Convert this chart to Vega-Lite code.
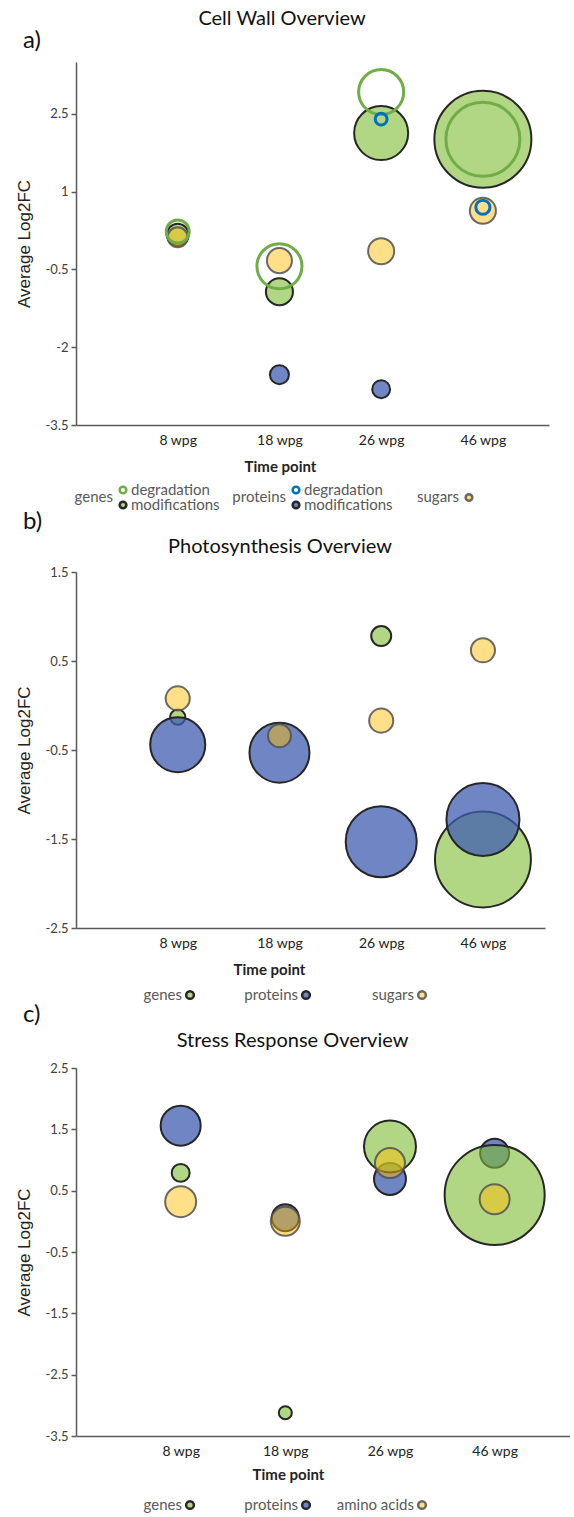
{
  "$schema": "https://vega.github.io/schema/vega-lite/v6.json",
  "background": "white",
  "padding": {"left": 15, "top": 9, "right": 0, "bottom": 0},
  "spacing": -6,
  "resolve": {"scale": {"x": "independent", "y": "independent", "fill": "independent", "stroke": "independent", "size": "independent"}},
  "config": {
    "view": {"stroke": null},
    "font": "Lato",
    "axis": {"grid": false, "domainColor": "#595959", "domainWidth": 1.5, "tickColor": "#595959", "tickWidth": 1.5, "labelFont": "Lato", "labelColor": "#404040", "titleColor": "#222222"},
    "axisX": {"ticks": false, "labelFontSize": 14, "labelColor": "#222222", "labelPadding": 8, "titleFont": "Lato", "titleFontWeight": "bold", "titleFontSize": 15, "titlePadding": 12},
    "axisY": {"tickSize": 5, "labelFontSize": 13, "labelPadding": 3, "titleFont": "Liberation Sans", "titleFontWeight": "normal", "titleFontSize": 17, "titlePadding": 12},
    "title": {"font": "Lato", "fontWeight": "normal", "color": "#111111"},
    "text": {"font": "Lato", "fontSize": 15, "color": "#595959"}
  },
  "datasets": {
    "a": [
      {"tp": 1, "series": "genes modifications", "fc": 0.17, "n": 4.8},
      {"tp": 2, "series": "genes modifications", "fc": -0.93, "n": 7.3},
      {"tp": 3, "series": "genes modifications", "fc": 2.13, "n": 29.2},
      {"tp": 4, "series": "genes modifications", "fc": 2.01, "n": 94.1},
      {"tp": 2, "series": "proteins modifications", "fc": -2.53, "n": 3.6},
      {"tp": 3, "series": "proteins modifications", "fc": -2.81, "n": 3.2},
      {"tp": 1, "series": "sugars", "fc": 0.12, "n": 4.0},
      {"tp": 2, "series": "sugars", "fc": -0.33, "n": 6.3},
      {"tp": 3, "series": "sugars", "fc": -0.15, "n": 6.8},
      {"tp": 4, "series": "sugars", "fc": 0.63, "n": 6.8},
      {"tp": 1, "series": "genes degradation", "fc": 0.23, "n": 5.3},
      {"tp": 2, "series": "genes degradation", "fc": -0.44, "n": 20.3},
      {"tp": 3, "series": "genes degradation", "fc": 2.92, "n": 20.3},
      {"tp": 4, "series": "genes degradation", "fc": 2.01, "n": 54.8},
      {"tp": 3, "series": "proteins degradation", "fc": 2.4, "n": 1.4},
      {"tp": 4, "series": "proteins degradation", "fc": 0.7, "n": 2.0}
    ],
    "b": [
      {"tp": 1, "series": "genes", "fc": -0.13, "n": 2.3},
      {"tp": 3, "series": "genes", "fc": 0.78, "n": 4.0},
      {"tp": 4, "series": "genes", "fc": -1.73, "n": 92},
      {"tp": 1, "series": "proteins", "fc": -0.44, "n": 30.3},
      {"tp": 2, "series": "proteins", "fc": -0.53, "n": 36},
      {"tp": 3, "series": "proteins", "fc": -1.53, "n": 50.4},
      {"tp": 4, "series": "proteins", "fc": -1.28, "n": 53.3},
      {"tp": 1, "series": "sugars", "fc": 0.08, "n": 5.8},
      {"tp": 2, "series": "sugars", "fc": -0.34, "n": 5.3},
      {"tp": 3, "series": "sugars", "fc": -0.17, "n": 5.8},
      {"tp": 4, "series": "sugars", "fc": 0.62, "n": 5.8}
    ],
    "c": [
      {"tp": 1, "series": "proteins", "fc": 1.56, "n": 16},
      {"tp": 2, "series": "proteins", "fc": 0.06, "n": 7.3},
      {"tp": 3, "series": "proteins", "fc": 0.69, "n": 10.2},
      {"tp": 4, "series": "proteins", "fc": 1.11, "n": 8.4},
      {"tp": 1, "series": "genes", "fc": 0.79, "n": 3.2},
      {"tp": 2, "series": "genes", "fc": -3.12, "n": 1.7},
      {"tp": 3, "series": "genes", "fc": 1.22, "n": 27},
      {"tp": 4, "series": "genes", "fc": 0.43, "n": 100},
      {"tp": 1, "series": "amino acids", "fc": 0.32, "n": 9.6},
      {"tp": 2, "series": "amino acids", "fc": 0.0, "n": 8.4},
      {"tp": 3, "series": "amino acids", "fc": 0.95, "n": 9},
      {"tp": 4, "series": "amino acids", "fc": 0.36, "n": 9}
    ],
    "legA": [
      {"group": "genes", "item": "degradation", "series": "genes degradation"},
      {"group": "genes", "item": "modifications", "series": "genes modifications"},
      {"group": "proteins", "item": "degradation", "series": "proteins degradation"},
      {"group": "proteins", "item": "modifications", "series": "proteins modifications"}
    ],
    "legB": [
      {"group": "genes", "series": "genes"},
      {"group": "proteins", "series": "proteins"},
      {"group": "sugars", "series": "sugars"}
    ],
    "legC": [
      {"group": "genes", "series": "genes"},
      {"group": "proteins", "series": "proteins"},
      {"group": "amino acids", "series": "amino acids"}
    ],
    "ticks": [{"tp": 1}, {"tp": 2}, {"tp": 3}, {"tp": 4}]
  },
  "vconcat": [
    {
      "title": {"text": "Cell Wall Overview", "anchor": "middle", "frame": "bounds", "fontSize": 20, "offset": 0},
      "spacing": 4,
      "resolve": {"scale": {"x": "independent", "y": "independent"}},
      "vconcat": [
        {
          "title": {"text": "a)", "anchor": "start", "frame": "bounds", "fontSize": 24, "dx": 8, "dy": -2, "offset": 7},
          "width": 473,
          "height": 363,
          "data": {"name": "a"},
          "encoding": {
            "x": {"field": "tp", "type": "quantitative", "scale": {"domain": [0, 4.65], "nice": false, "zero": false},
              "axis": {"values": [1, 2, 3, 4], "labelExpr": "['', '8 wpg', '18 wpg', '26 wpg', '46 wpg'][datum.value]", "title": "Time point", "titleX": 204}},
            "y": {"field": "fc", "type": "quantitative", "scale": {"domain": [-3.5, 3.5], "nice": false, "zero": false},
              "axis": {"values": [-3.5, -2, -0.5, 1, 2.5], "labelExpr": "datum.value", "title": "Average Log2FC"}}
          },
          "layer": [
            {"data": {"values": [{}]}, "mark": {"type": "rule", "color": "#808080", "strokeWidth": 1.5},
              "encoding": {"y": {"datum": 0}, "x": {"datum": 0}, "x2": {"datum": 4.65}}},
            {"data": {"name": "ticks"}, "mark": {"type": "point", "shape": "M0,0L0,1", "filled": false, "stroke": "#808080", "strokeWidth": 1.2, "size": 90, "opacity": 1},
              "encoding": {"y": {"datum": 0}}},
            {"transform": [{"filter": "indexof(datum.series, 'degradation') < 0"}],
              "mark": {"type": "point", "shape": "circle", "filled": true, "strokeWidth": 2, "opacity": 1},
              "encoding": {
                "fill": {"field": "series", "type": "nominal", "legend": null, "scale": {"domain": ["genes modifications", "proteins modifications", "sugars", "genes degradation", "proteins degradation"], "range": ["rgba(125,188,52,0.6)", "rgba(64,93,176,0.75)", "rgba(255,187,0,0.47)", "transparent", "transparent"]}},
                "stroke": {"field": "series", "type": "nominal", "legend": null, "scale": {"domain": ["genes modifications", "proteins modifications", "sugars", "genes degradation", "proteins degradation"], "range": ["#262626", "#262626", "rgba(80,80,80,0.85)", "#70ad47", "#0070c0"]}},
                "size": {"field": "n", "type": "quantitative", "legend": null, "scale": {"type": "linear", "domain": [0, 100], "range": [0, 10000], "zero": true}}
              }},
            {"transform": [{"filter": "indexof(datum.series, 'degradation') >= 0"}],
              "mark": {"type": "point", "shape": "circle", "filled": true, "strokeWidth": 3, "opacity": 1},
              "encoding": {
                "fill": {"field": "series", "type": "nominal", "legend": null},
                "stroke": {"field": "series", "type": "nominal", "legend": null},
                "size": {"field": "n", "type": "quantitative", "legend": null}
              }}
          ]
        },
        {
          "width": 473,
          "height": 38,
          "encoding": {
            "x": {"field": "group", "type": "nominal", "scale": {"type": "point", "padding": 0, "domain": ["genes", "proteins", "sugars"], "range": [47, 393]}, "axis": null}
          },
          "layer": [
            {"data": {"values": [{"group": "genes"}, {"group": "proteins"}, {"group": "sugars"}]},
              "mark": {"type": "text", "align": "right", "baseline": "middle", "dx": -10, "dy": -0.5},
              "encoding": {"y": {"value": 19.5}, "text": {"field": "group"}}},
            {"data": {"name": "legA"},
              "mark": {"type": "text", "align": "left", "baseline": "middle", "dx": 8},
              "encoding": {"y": {"field": "item", "type": "nominal", "scale": {"type": "point", "padding": 0, "domain": ["degradation", "modifications"], "range": [12, 27]}, "axis": null}, "text": {"field": "item"}}},
            {"data": {"name": "legA"},
              "mark": {"type": "point", "shape": "circle", "filled": true, "strokeWidth": 2.5, "size": 45, "opacity": 1},
              "encoding": {
                "y": {"field": "item", "type": "nominal"},
                "fill": {"field": "series", "type": "nominal", "legend": null, "scale": {"domain": ["genes modifications", "proteins modifications", "sugars", "genes degradation", "proteins degradation"], "range": ["#6f7f5f", "#6a7088", "#f4d68a", "transparent", "transparent"]}},
                "stroke": {"field": "series", "type": "nominal", "legend": null, "scale": {"domain": ["genes modifications", "proteins modifications", "sugars", "genes degradation", "proteins degradation"], "range": ["#555555", "#555555", "#8a8a8a", "#70ad47", "#0070c0"]}}
              }},
            {"data": {"values": [{"group": "sugars", "series": "sugars"}]},
              "mark": {"type": "point", "shape": "circle", "filled": true, "strokeWidth": 2.5, "size": 45, "opacity": 1},
              "encoding": {
                "y": {"value": 19.5},
                "fill": {"field": "series", "type": "nominal", "legend": null},
                "stroke": {"field": "series", "type": "nominal", "legend": null}
              }}
          ]
        }
      ]
    },
    {
      "title": {"text": "b)", "anchor": "start", "frame": "bounds", "fontSize": 24, "dx": 8, "offset": 3},
      "spacing": 4,
      "resolve": {"scale": {"x": "independent", "y": "independent"}},
      "vconcat": [
        {
          "title": {"text": "Photosynthesis Overview", "anchor": "middle", "frame": "bounds", "fontSize": 20, "offset": 9},
          "width": 469,
          "height": 356,
          "data": {"name": "b"},
          "encoding": {
            "x": {"field": "tp", "type": "quantitative", "scale": {"domain": [0, 4.61], "nice": false, "zero": false},
              "axis": {"values": [1, 2, 3, 4], "labelExpr": "['', '8 wpg', '18 wpg', '26 wpg', '46 wpg'][datum.value]", "title": "Time point", "titleX": 193}},
            "y": {"field": "fc", "type": "quantitative", "scale": {"domain": [-2.5, 1.5], "nice": false, "zero": false},
              "axis": {"values": [-2.5, -1.5, -0.5, 0.5, 1.5], "labelExpr": "datum.value", "title": "Average Log2FC"}}
          },
          "layer": [
            {"data": {"values": [{}]}, "mark": {"type": "rule", "color": "#808080", "strokeWidth": 1.5},
              "encoding": {"y": {"datum": 0}, "x": {"datum": 0}, "x2": {"datum": 4.61}}},
            {"data": {"name": "ticks"}, "mark": {"type": "point", "shape": "M0,0L0,1", "filled": false, "stroke": "#808080", "strokeWidth": 1.2, "size": 90, "opacity": 1},
              "encoding": {"y": {"datum": 0}}},
            {"mark": {"type": "point", "shape": "circle", "filled": true, "strokeWidth": 2, "opacity": 1},
              "encoding": {
                "fill": {"field": "series", "type": "nominal", "legend": null, "scale": {"domain": ["genes", "proteins", "sugars"], "range": ["rgba(125,188,52,0.6)", "rgba(64,93,176,0.75)", "rgba(255,187,0,0.47)"]}},
                "stroke": {"field": "series", "type": "nominal", "legend": null, "scale": {"domain": ["genes", "proteins", "sugars"], "range": ["#262626", "#262626", "rgba(80,80,80,0.85)"]}},
                "size": {"field": "n", "type": "quantitative", "legend": null, "scale": {"type": "linear", "domain": [0, 100], "range": [0, 10000], "zero": true}}
              }}
          ]
        },
        {
          "width": 469,
          "height": 28,
          "data": {"name": "legB"},
          "encoding": {
            "x": {"field": "group", "type": "nominal", "scale": {"type": "point", "padding": 0, "domain": ["genes", "proteins", "sugars"], "range": [114, 346]}, "axis": null}
          },
          "layer": [
            {"mark": {"type": "text", "align": "right", "baseline": "middle", "dx": -8},
              "encoding": {"text": {"field": "group"}}},
            {"mark": {"type": "point", "shape": "circle", "filled": true, "strokeWidth": 2.5, "size": 60, "opacity": 1},
              "encoding": {
                "fill": {"field": "series", "type": "nominal", "legend": null, "scale": {"domain": ["genes", "proteins", "sugars"], "range": ["#a9d18e", "#6f86c4", "#ffd98a"]}},
                "stroke": {"field": "series", "type": "nominal", "legend": null, "scale": {"domain": ["genes", "proteins", "sugars"], "range": ["#555555", "#555555", "#8a8a8a"]}}
              }}
          ]
        }
      ]
    },
    {
      "title": {"text": "c)", "anchor": "start", "frame": "bounds", "fontSize": 24, "dx": 8, "dy": -3, "offset": 1},
      "spacing": 4,
      "resolve": {"scale": {"x": "independent", "y": "independent"}},
      "vconcat": [
        {
          "title": {"text": "Stress Response Overview", "anchor": "middle", "frame": "bounds", "fontSize": 20, "offset": 11},
          "width": 494,
          "height": 368,
          "data": {"name": "c"},
          "encoding": {
            "x": {"field": "tp", "type": "quantitative", "scale": {"domain": [0, 4.72], "nice": false, "zero": false},
              "axis": {"values": [1, 2, 3, 4], "labelExpr": "['', '8 wpg', '18 wpg', '26 wpg', '46 wpg'][datum.value]", "title": "Time point", "titleX": 212, "titlePadding": 9}},
            "y": {"field": "fc", "type": "quantitative", "scale": {"domain": [-3.5, 2.5], "nice": false, "zero": false},
              "axis": {"values": [-3.5, -2.5, -1.5, -0.5, 0.5, 1.5, 2.5], "labelExpr": "datum.value", "title": "Average Log2FC"}}
          },
          "layer": [
            {"data": {"values": [{}]}, "mark": {"type": "rule", "color": "#808080", "strokeWidth": 1.5},
              "encoding": {"y": {"datum": 0}, "x": {"datum": 0}, "x2": {"datum": 4.72}}},
            {"data": {"name": "ticks"}, "mark": {"type": "point", "shape": "M0,0L0,1", "filled": false, "stroke": "#808080", "strokeWidth": 1.2, "size": 90, "opacity": 1},
              "encoding": {"y": {"datum": 0}}},
            {"mark": {"type": "point", "shape": "circle", "filled": true, "strokeWidth": 2, "opacity": 1},
              "encoding": {
                "fill": {"field": "series", "type": "nominal", "legend": null, "scale": {"domain": ["genes", "proteins", "amino acids"], "range": ["rgba(125,188,52,0.6)", "rgba(64,93,176,0.75)", "rgba(255,187,0,0.47)"]}},
                "stroke": {"field": "series", "type": "nominal", "legend": null, "scale": {"domain": ["genes", "proteins", "amino acids"], "range": ["#262626", "#262626", "rgba(80,80,80,0.85)"]}},
                "size": {"field": "n", "type": "quantitative", "legend": null, "scale": {"type": "linear", "domain": [0, 100], "range": [0, 10000], "zero": true}}
              }}
          ]
        },
        {
          "width": 494,
          "height": 38,
          "data": {"name": "legC"},
          "encoding": {
            "x": {"field": "group", "type": "nominal", "scale": {"type": "point", "padding": 0, "domain": ["genes", "proteins", "amino acids"], "range": [114, 346]}, "axis": null}
          },
          "layer": [
            {"mark": {"type": "text", "align": "right", "baseline": "middle", "dx": -8},
              "encoding": {"text": {"field": "group"}}},
            {"mark": {"type": "point", "shape": "circle", "filled": true, "strokeWidth": 2.5, "size": 60, "opacity": 1},
              "encoding": {
                "fill": {"field": "series", "type": "nominal", "legend": null, "scale": {"domain": ["genes", "proteins", "amino acids"], "range": ["#a9d18e", "#6f86c4", "#ffd98a"]}},
                "stroke": {"field": "series", "type": "nominal", "legend": null, "scale": {"domain": ["genes", "proteins", "amino acids"], "range": ["#555555", "#555555", "#8a8a8a"]}}
              }}
          ]
        }
      ]
    }
  ]
}
